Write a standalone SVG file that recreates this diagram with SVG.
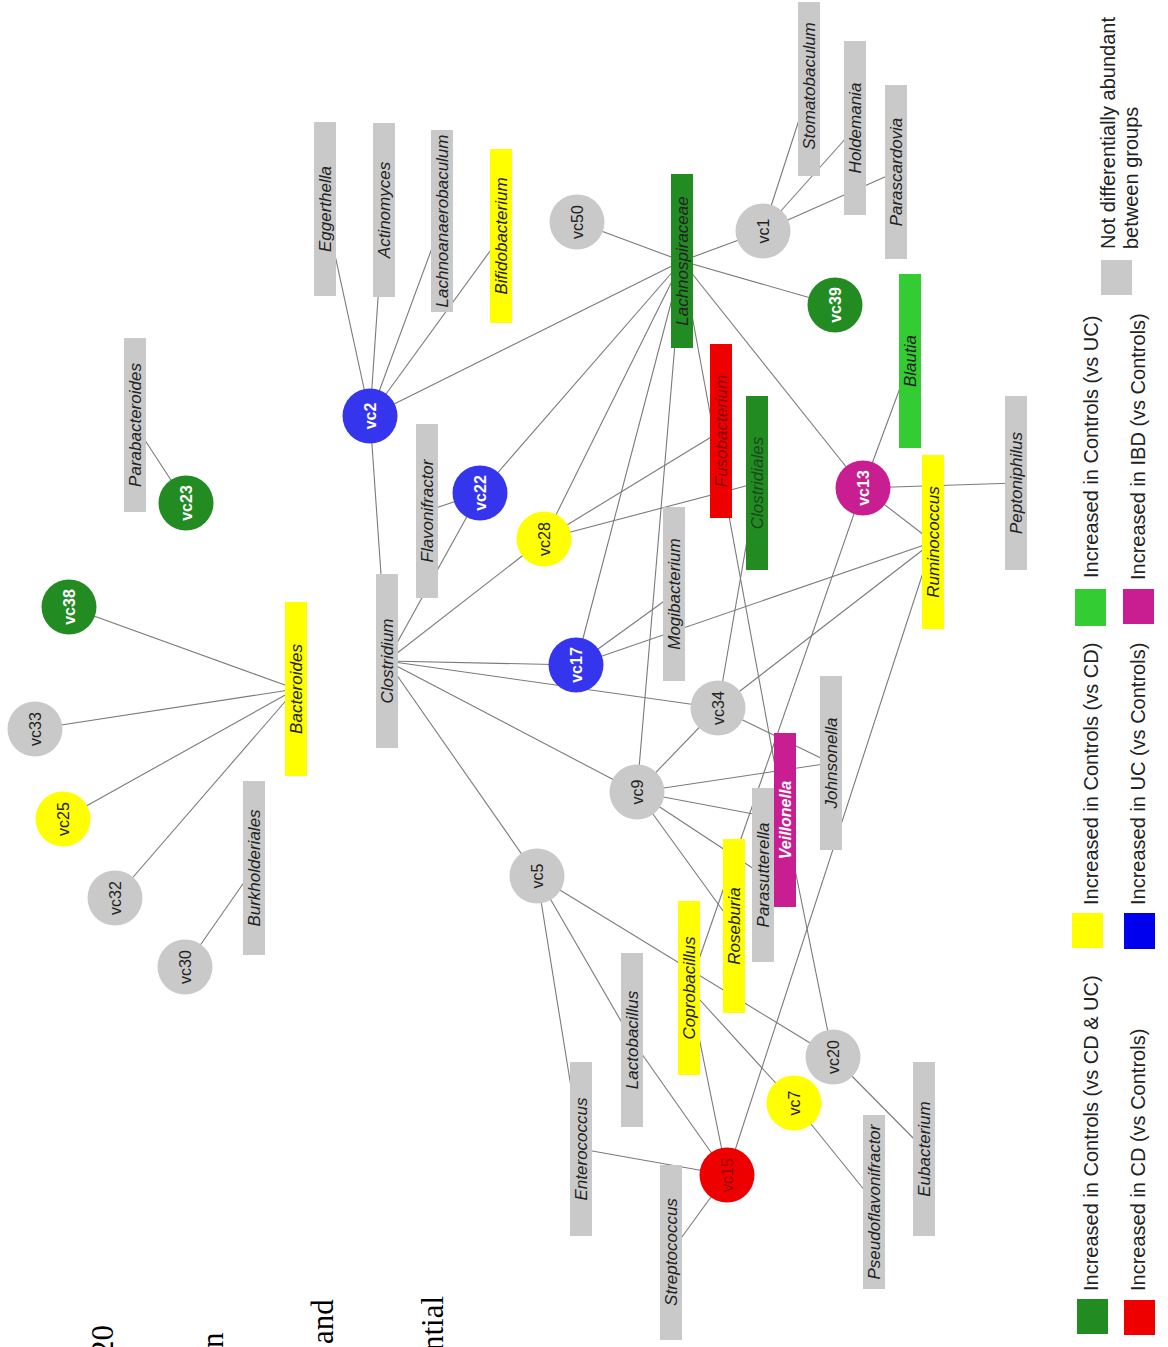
<svg xmlns="http://www.w3.org/2000/svg" width="1168" height="1347" viewBox="0 0 1168 1347">
<style>
.e{stroke:#7a7a7a;stroke-width:1.1;fill:none}
.gr{fill:#c9c9c9}.ye{fill:#ffff00}.dg{fill:#228b22}.lg{fill:#33cc33}.bl{fill:#3535ee}.rd{fill:#ee0000}.mg{fill:#c81e91}
.t{font-family:"Liberation Sans",Arial,sans-serif;font-size:17px;font-style:italic;text-anchor:middle;fill:#222}
.c{font-family:"Liberation Sans",Arial,sans-serif;font-size:16px;text-anchor:middle;fill:#222}
.w{fill:#fff;font-weight:bold}
.leg{font-family:"Liberation Sans",Arial,sans-serif;font-size:20px;fill:#222}
.pg{font-family:"Liberation Serif","Times New Roman",serif;font-size:31px;fill:#000}
</style>
<rect width="1168" height="1347" fill="#fff"/>
<g id="edges">
<line class="e" x1="370" y1="416" x2="325" y2="209"/>
<line class="e" x1="370" y1="416" x2="384" y2="210"/>
<line class="e" x1="370" y1="416" x2="442" y2="221"/>
<line class="e" x1="370" y1="416" x2="501" y2="236"/>
<line class="e" x1="370" y1="416" x2="682" y2="261"/>
<line class="e" x1="370" y1="416" x2="387" y2="661"/>
<line class="e" x1="577" y1="222" x2="682" y2="261"/>
<line class="e" x1="763" y1="231" x2="682" y2="261"/>
<line class="e" x1="763" y1="231" x2="809" y2="89"/>
<line class="e" x1="763" y1="231" x2="855" y2="128"/>
<line class="e" x1="763" y1="231" x2="896" y2="172"/>
<line class="e" x1="682" y1="261" x2="835" y2="305"/>
<line class="e" x1="682" y1="261" x2="480" y2="493"/>
<line class="e" x1="682" y1="261" x2="544" y2="539"/>
<line class="e" x1="682" y1="261" x2="576" y2="665"/>
<line class="e" x1="682" y1="261" x2="637" y2="792"/>
<line class="e" x1="682" y1="261" x2="785" y2="820"/>
<line class="e" x1="682" y1="261" x2="863" y2="488"/>
<line class="e" x1="135" y1="425" x2="186" y2="503"/>
<line class="e" x1="69" y1="607" x2="296" y2="689"/>
<line class="e" x1="35" y1="729" x2="296" y2="689"/>
<line class="e" x1="63" y1="819" x2="296" y2="689"/>
<line class="e" x1="115" y1="898" x2="296" y2="689"/>
<line class="e" x1="254" y1="868" x2="185" y2="967"/>
<line class="e" x1="427" y1="511" x2="480" y2="493"/>
<line class="e" x1="387" y1="661" x2="480" y2="493"/>
<line class="e" x1="387" y1="661" x2="544" y2="539"/>
<line class="e" x1="387" y1="661" x2="576" y2="665"/>
<line class="e" x1="387" y1="661" x2="718" y2="708"/>
<line class="e" x1="387" y1="661" x2="637" y2="792"/>
<line class="e" x1="387" y1="661" x2="537" y2="876"/>
<line class="e" x1="544" y1="539" x2="721" y2="431"/>
<line class="e" x1="544" y1="539" x2="757" y2="483"/>
<line class="e" x1="576" y1="665" x2="674" y2="594"/>
<line class="e" x1="576" y1="665" x2="933" y2="542"/>
<line class="e" x1="863" y1="488" x2="910" y2="361"/>
<line class="e" x1="863" y1="488" x2="1016" y2="483"/>
<line class="e" x1="863" y1="488" x2="933" y2="542"/>
<line class="e" x1="863" y1="488" x2="689" y2="988"/>
<line class="e" x1="933" y1="542" x2="718" y2="708"/>
<line class="e" x1="933" y1="542" x2="727" y2="1175"/>
<line class="e" x1="757" y1="483" x2="718" y2="708"/>
<line class="e" x1="718" y1="708" x2="637" y2="792"/>
<line class="e" x1="718" y1="708" x2="831" y2="763"/>
<line class="e" x1="637" y1="792" x2="831" y2="763"/>
<line class="e" x1="637" y1="792" x2="785" y2="820"/>
<line class="e" x1="637" y1="792" x2="763" y2="875"/>
<line class="e" x1="637" y1="792" x2="734" y2="926"/>
<line class="e" x1="785" y1="820" x2="833" y2="1057"/>
<line class="e" x1="537" y1="876" x2="581" y2="1149"/>
<line class="e" x1="537" y1="876" x2="632" y2="1040"/>
<line class="e" x1="537" y1="876" x2="833" y2="1057"/>
<line class="e" x1="632" y1="1040" x2="727" y2="1175"/>
<line class="e" x1="689" y1="988" x2="727" y2="1175"/>
<line class="e" x1="689" y1="988" x2="794" y2="1103"/>
<line class="e" x1="581" y1="1149" x2="727" y2="1175"/>
<line class="e" x1="671" y1="1252" x2="727" y2="1175"/>
<line class="e" x1="794" y1="1103" x2="874" y2="1202"/>
<line class="e" x1="833" y1="1057" x2="924" y2="1149"/>
</g>
<g id="n-Eggerthella"><rect class="gr" x="314" y="122" width="22" height="174"/><text class="t" x="325" y="209" dy="6" transform="rotate(-90 325 209)">Eggerthella</text></g>
<g id="n-Actinomyces"><rect class="gr" x="373" y="123" width="22" height="174"/><text class="t" x="384" y="210" dy="6" transform="rotate(-90 384 210)">Actinomyces</text></g>
<g id="n-Lachnoanaerobaculum"><rect class="gr" x="431" y="130" width="22" height="182"/><text class="t" x="442" y="221" dy="6" transform="rotate(-90 442 221)">Lachnoanaerobaculum</text></g>
<g id="n-Bifidobacterium"><rect class="ye" x="490" y="149" width="22" height="174"/><text class="t" x="501" y="236" dy="6" transform="rotate(-90 501 236)">Bifidobacterium</text></g>
<g id="n-Stomatobaculum"><rect class="gr" x="798" y="2" width="22" height="174"/><text class="t" x="809" y="86" dy="6" transform="rotate(-90 809 86)">Stomatobaculum</text></g>
<g id="n-Holdemania"><rect class="gr" x="844" y="41" width="22" height="174"/><text class="t" x="855" y="128" dy="6" transform="rotate(-90 855 128)">Holdemania</text></g>
<g id="n-Parascardovia"><rect class="gr" x="885" y="85" width="22" height="174"/><text class="t" x="896" y="172" dy="6" transform="rotate(-90 896 172)">Parascardovia</text></g>
<g id="n-Lachnospiraceae"><rect class="dg" x="671" y="174" width="22" height="174"/><text class="t" x="682" y="261" dy="6" transform="rotate(-90 682 261)">Lachnospiraceae</text></g>
<g id="n-Parabacteroides"><rect class="gr" x="124" y="338" width="22" height="174"/><text class="t" x="135" y="425" dy="6" transform="rotate(-90 135 425)">Parabacteroides</text></g>
<g id="n-Blautia"><rect class="lg" x="899" y="274" width="22" height="174"/><text class="t" x="910" y="361" dy="6" transform="rotate(-90 910 361)">Blautia</text></g>
<g id="n-Fusobacterium"><rect class="rd" x="710" y="344" width="22" height="174"/><text class="t" x="721" y="431" dy="6" transform="rotate(-90 721 431)" style="fill:#8a0000">Fusobacterium</text></g>
<g id="n-Clostridiales"><rect class="dg" x="746" y="396" width="22" height="174"/><text class="t" x="757" y="483" dy="6" transform="rotate(-90 757 483)" style="fill:#1a4a1a">Clostridiales</text></g>
<g id="n-Flavonifractor"><rect class="gr" x="416" y="424" width="22" height="174"/><text class="t" x="427" y="511" dy="6" transform="rotate(-90 427 511)">Flavonifractor</text></g>
<g id="n-Ruminococcus"><rect class="ye" x="922" y="455" width="22" height="174"/><text class="t" x="933" y="542" dy="6" transform="rotate(-90 933 542)">Ruminococcus</text></g>
<g id="n-Peptoniphilus"><rect class="gr" x="1005" y="396" width="22" height="174"/><text class="t" x="1016" y="483" dy="6" transform="rotate(-90 1016 483)">Peptoniphilus</text></g>
<g id="n-Mogibacterium"><rect class="gr" x="663" y="507" width="22" height="174"/><text class="t" x="674" y="594" dy="6" transform="rotate(-90 674 594)">Mogibacterium</text></g>
<g id="n-Clostridium"><rect class="gr" x="376" y="574" width="22" height="174"/><text class="t" x="387" y="661" dy="6" transform="rotate(-90 387 661)">Clostridium</text></g>
<g id="n-Bacteroides"><rect class="ye" x="285" y="602" width="22" height="174"/><text class="t" x="296" y="689" dy="6" transform="rotate(-90 296 689)">Bacteroides</text></g>
<g id="n-Johnsonella"><rect class="gr" x="820" y="676" width="22" height="174"/><text class="t" x="831" y="763" dy="6" transform="rotate(-90 831 763)">Johnsonella</text></g>
<g id="n-Veillonella"><rect class="mg" x="774" y="733" width="22" height="174"/><text class="t" x="785" y="820" dy="6" transform="rotate(-90 785 820)" style="fill:#fff;font-weight:bold;font-size:16px">Veillonella</text></g>
<g id="n-Burkholderiales"><rect class="gr" x="243" y="781" width="22" height="174"/><text class="t" x="254" y="868" dy="6" transform="rotate(-90 254 868)">Burkholderiales</text></g>
<g id="n-Parasutterella"><rect class="gr" x="752" y="788" width="22" height="174"/><text class="t" x="763" y="875" dy="6" transform="rotate(-90 763 875)">Parasutterella</text></g>
<g id="n-Roseburia"><rect class="ye" x="723" y="839" width="22" height="174"/><text class="t" x="734" y="926" dy="6" transform="rotate(-90 734 926)">Roseburia</text></g>
<g id="n-Coprobacillus"><rect class="ye" x="678" y="901" width="22" height="174"/><text class="t" x="689" y="988" dy="6" transform="rotate(-90 689 988)">Coprobacillus</text></g>
<g id="n-Lactobacillus"><rect class="gr" x="621" y="953" width="22" height="174"/><text class="t" x="632" y="1040" dy="6" transform="rotate(-90 632 1040)">Lactobacillus</text></g>
<g id="n-Enterococcus"><rect class="gr" x="570" y="1062" width="22" height="174"/><text class="t" x="581" y="1149" dy="6" transform="rotate(-90 581 1149)">Enterococcus</text></g>
<g id="n-Streptococcus"><rect class="gr" x="660" y="1165" width="22" height="175"/><text class="t" x="671" y="1252" dy="6" transform="rotate(-90 671 1252)">Streptococcus</text></g>
<g id="n-Pseudoflavonifractor"><rect class="gr" x="863" y="1115" width="22" height="174"/><text class="t" x="874" y="1202" dy="6" transform="rotate(-90 874 1202)">Pseudoflavonifractor</text></g>
<g id="n-Eubacterium"><rect class="gr" x="913" y="1062" width="22" height="174"/><text class="t" x="924" y="1149" dy="6" transform="rotate(-90 924 1149)">Eubacterium</text></g>

<g id="n-vc50"><circle class="gr" cx="577" cy="222" r="27.5"/><text class="c" x="577" y="222" dy="6" transform="rotate(-90 577 222)">vc50</text></g>
<g id="n-vc1"><circle class="gr" cx="763" cy="231" r="27.5"/><text class="c" x="763" y="231" dy="6" transform="rotate(-90 763 231)">vc1</text></g>
<g id="n-vc39"><circle class="dg" cx="835" cy="305" r="27.5"/><text class="c w" x="835" y="305" dy="6" transform="rotate(-90 835 305)">vc39</text></g>
<g id="n-vc2"><circle class="bl" cx="370" cy="416" r="27.5"/><text class="c w" x="370" y="416" dy="6" transform="rotate(-90 370 416)">vc2</text></g>
<g id="n-vc23"><circle class="dg" cx="186" cy="503" r="27.5"/><text class="c w" x="186" y="503" dy="6" transform="rotate(-90 186 503)">vc23</text></g>
<g id="n-vc38"><circle class="dg" cx="69" cy="607" r="27.5"/><text class="c w" x="69" y="607" dy="6" transform="rotate(-90 69 607)">vc38</text></g>
<g id="n-vc22"><circle class="bl" cx="480" cy="493" r="27.5"/><text class="c w" x="480" y="493" dy="6" transform="rotate(-90 480 493)">vc22</text></g>
<g id="n-vc28"><circle class="ye" cx="544" cy="539" r="27.5"/><text class="c" x="544" y="539" dy="6" transform="rotate(-90 544 539)">vc28</text></g>
<g id="n-vc13"><circle class="mg" cx="863" cy="488" r="27.5"/><text class="c w" x="863" y="488" dy="6" transform="rotate(-90 863 488)">vc13</text></g>
<g id="n-vc17"><circle class="bl" cx="576" cy="665" r="27.5"/><text class="c w" x="576" y="665" dy="6" transform="rotate(-90 576 665)">vc17</text></g>
<g id="n-vc34"><circle class="gr" cx="718" cy="708" r="27.5"/><text class="c" x="718" y="708" dy="6" transform="rotate(-90 718 708)">vc34</text></g>
<g id="n-vc33"><circle class="gr" cx="35" cy="729" r="27.5"/><text class="c" x="35" y="729" dy="6" transform="rotate(-90 35 729)">vc33</text></g>
<g id="n-vc9"><circle class="gr" cx="637" cy="792" r="27.5"/><text class="c" x="637" y="792" dy="6" transform="rotate(-90 637 792)">vc9</text></g>
<g id="n-vc25"><circle class="ye" cx="63" cy="819" r="27.5"/><text class="c" x="63" y="819" dy="6" transform="rotate(-90 63 819)">vc25</text></g>
<g id="n-vc5"><circle class="gr" cx="537" cy="876" r="27.5"/><text class="c" x="537" y="876" dy="6" transform="rotate(-90 537 876)">vc5</text></g>
<g id="n-vc32"><circle class="gr" cx="115" cy="898" r="27.5"/><text class="c" x="115" y="898" dy="6" transform="rotate(-90 115 898)">vc32</text></g>
<g id="n-vc30"><circle class="gr" cx="185" cy="967" r="27.5"/><text class="c" x="185" y="967" dy="6" transform="rotate(-90 185 967)">vc30</text></g>
<g id="n-vc20"><circle class="gr" cx="833" cy="1057" r="27.5"/><text class="c" x="833" y="1057" dy="6" transform="rotate(-90 833 1057)">vc20</text></g>
<g id="n-vc7"><circle class="ye" cx="794" cy="1103" r="27.5"/><text class="c" x="794" y="1103" dy="6" transform="rotate(-90 794 1103)">vc7</text></g>
<g id="n-vc15"><circle class="rd" cx="727" cy="1175" r="27.5"/><text class="c" x="727" y="1175" dy="6" transform="rotate(-90 727 1175)" style="fill:#990000">vc15</text></g>

<g id="legend">
<rect class="dg" x="1077" y="1299" width="31" height="35"/>
<text class="leg" x="1098" y="1291" transform="rotate(-90 1098 1291)">Increased in Controls (vs CD &amp; UC)</text>
<rect class="rd" x="1124" y="1300" width="31" height="35"/>
<text class="leg" x="1145" y="1291" transform="rotate(-90 1145 1291)">Increased in CD (vs Controls)</text>
<rect class="ye" x="1072" y="913" width="31" height="35"/>
<text class="leg" x="1098" y="905" transform="rotate(-90 1098 905)">Increased in Controls (vs CD)</text>
<rect style="fill:#0000ee" x="1124" y="913" width="31" height="36"/>
<text class="leg" x="1145" y="905" transform="rotate(-90 1145 905)">Increased in UC (vs Controls)</text>
<rect class="lg" x="1075" y="589" width="31" height="37"/>
<text class="leg" x="1098" y="578" transform="rotate(-90 1098 578)">Increased in Controls (vs UC)</text>
<rect class="mg" x="1123" y="589" width="31" height="35"/>
<text class="leg" x="1145" y="580" transform="rotate(-90 1145 580)">Increased in IBD (vs Controls)</text>
<rect class="gr" x="1101" y="260" width="31" height="35"/>
<text class="leg" x="1115" y="249" transform="rotate(-90 1115 249)">Not differentially abundant</text>
<text class="leg" x="1138" y="249" transform="rotate(-90 1138 249)">between groups</text>
</g>
<g id="page-text">
<text class="pg" x="113" y="1356" transform="rotate(-90 113 1356)">20</text>
<text class="pg" x="223" y="1348" transform="rotate(-90 223 1348)">n</text>
<text class="pg" x="333" y="1344" transform="rotate(-90 333 1344)">and</text>
<text class="pg" x="443" y="1351" transform="rotate(-90 443 1351)">ntial</text>
</g>
</svg>
